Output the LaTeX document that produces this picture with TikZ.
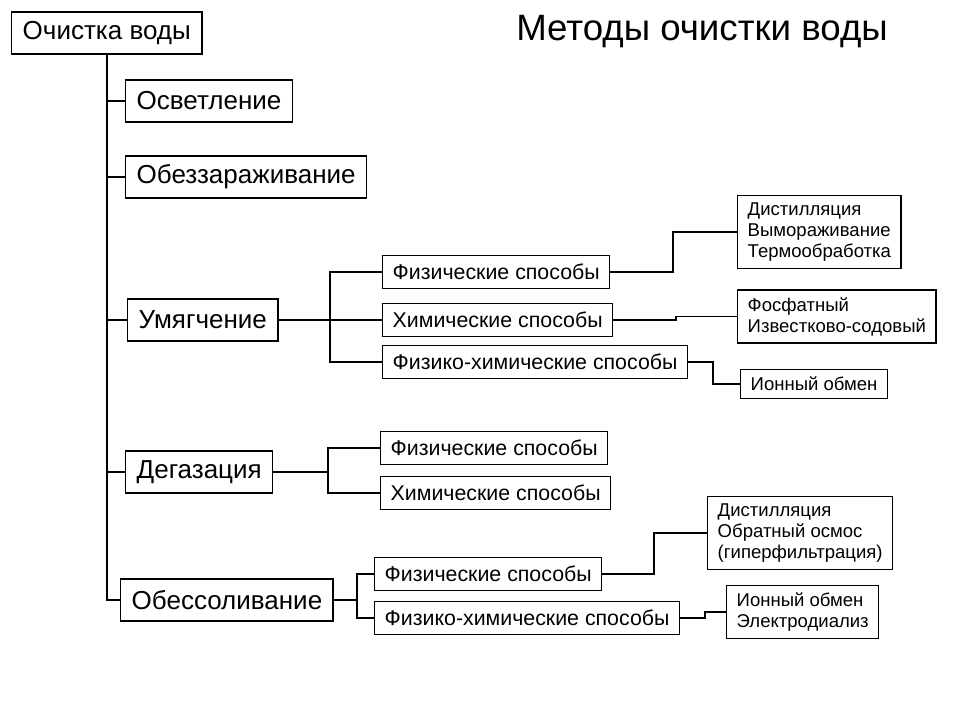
\documentclass[tikz,border=0pt]{standalone}
\usepackage{fontspec}
\setmainfont{Liberation Sans}
\usetikzlibrary{calc}

\tikzset{
    box/.style={draw, line width=1.1pt, anchor=west, inner ysep=2pt},
    mainbox/.style={box, font=\fontsize{19.5}{22}\selectfont, inner xsep=8.25pt, minimum height=31.5pt},
    waybox/.style={box, font=\fontsize{16}{18}\selectfont, inner xsep=7.5pt, minimum height=24.5pt},
    listbox/.style={box, font=\fontsize{13.9}{15.75}\selectfont, align=left, inner xsep=7.5pt, inner ysep=5.5pt},
}

\begin{document}
\begin{tikzpicture}[x=0.75pt, y=-0.75pt, line width=1.1pt]

    \useasboundingbox (0,0) rectangle (960,720);

    % title
    \node[font=\fontsize{27.5}{30}\selectfont] (title) at (702,32) {Методы очистки воды};

    % main branch
    \node[mainbox] (top) at (11,33) {Очистка воды};
    \node[mainbox] (osv) at (125,101) {Осветление};
    \node[mainbox] (obz) at (125,177) {Обеззараживание};
    \node[mainbox] (umy) at (127,320) {Умягчение};
    \node[mainbox] (deg) at (125,472) {Дегазация};
    \node[mainbox] (obs) at (120,600) {Обессоливание};

    \coordinate (t) at (top.south);
    \draw (t) |- (obs.west);
    \draw (osv.west) -- (t |- osv.west);
    \draw (obz.west) -- (t |- obz.west);
    \draw (umy.west) -- (t |- umy.west);
    \draw (deg.west) -- (t |- deg.west);

    % Умягчение
    \node[waybox] (fiz1) at (382,272) {Физические способы};
    \node[waybox] (him1) at (382,320) {Химические способы};
    \node[waybox] (fxh1) at (382,362) {Физико-химические способы};
    \node[listbox] (dist1) at (737,232) {Дистилляция\\Вымораживание\\Термообработка};
    \node[listbox] (fosf) at (737,316.5) {Фосфатный\\Известково-содовый};
    \node[listbox] (ion1) at (740,384) {Ионный обмен};

    \coordinate (b1) at (330,320);
    \draw (umy.east) -- (b1);
    \draw (fiz1.west) -| (b1) |- (fxh1.west);
    \draw (b1) -- (him1.west);
    \draw (fiz1.east) -| ($(dist1.west)+(-64,0)$) -- (dist1.west);
    \draw (him1.east) -| ($(fosf.west)+(-61,0)$) -- (fosf.west);
    \draw (fxh1.east) -| ($(ion1.west)+(-27,0)$) -- (ion1.west);

    % Дегазация
    \node[waybox] (fiz2) at (380,448) {Физические способы};
    \node[waybox] (him2) at (380,493) {Химические способы};

    \coordinate (b2) at (328,472);
    \draw (deg.east) -- (b2);
    \draw (fiz2.west) -| (b2) |- (him2.west);

    % Обессоливание
    \node[waybox] (fiz3) at (374,574) {Физические способы};
    \node[waybox] (fxh3) at (374,618) {Физико-химические способы};
    \node[listbox] (dist3) at (707,533) {Дистилляция\\Обратный осмос\\(гиперфильтрация)};
    \node[listbox] (ion3) at (726,612) {Ионный обмен\\Электродиализ};

    \coordinate (b3) at (357,600);
    \draw (obs.east) -- (b3);
    \draw (fiz3.west) -| (b3) |- (fxh3.west);
    \draw (fiz3.east) -| ($(dist3.west)+(-53,0)$) -- (dist3.west);
    \draw (fxh3.east) -| ($(ion3.west)+(-21,0)$) -- (ion3.west);

\end{tikzpicture}
\end{document}
